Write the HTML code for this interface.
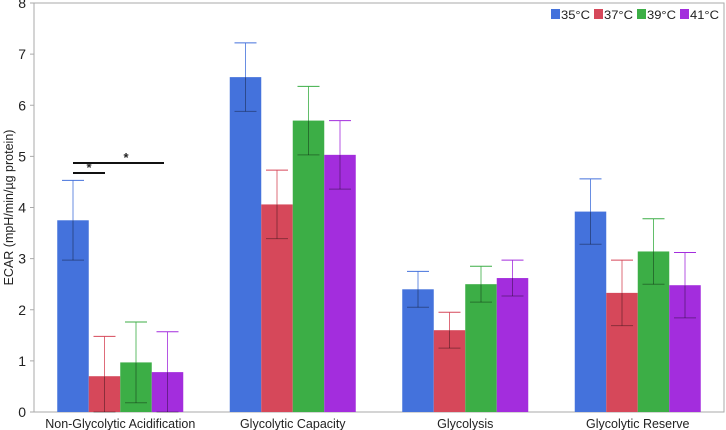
<!DOCTYPE html>
<html><head><meta charset="utf-8"><style>
body{margin:0;background:#fff;width:726px;height:430px;overflow:hidden}
svg{display:block}
text{font-family:"Liberation Sans",sans-serif;fill:#222}
</style></head><body>
<svg id="chart" width="726" height="430" xmlns="http://www.w3.org/2000/svg"></svg>
<script>
const categories=["Non-Glycolytic Acidification","Glycolytic Capacity","Glycolysis","Glycolytic Reserve"];
const seriesNames=["35°C","37°C","39°C","41°C"];
const s35=[3.75,6.55,2.40,3.92];
const s37=[0.70,4.06,1.60,2.33];
const s39=[0.97,5.70,2.50,3.14];
const s41=[0.78,5.03,2.62,2.48];
const err35=[0.78,0.67,0.35,0.64];
const err37=[0.78,0.67,0.35,0.64];
const err39=[0.79,0.67,0.35,0.64];
const err41=[0.79,0.67,0.35,0.64];
const yTicks=[0,1,2,3,4,5,6,7,8];
const colors=["#4472dc","#d6485a","#3cae46","#a32ddd"];
const ns="http://www.w3.org/2000/svg",svg=document.getElementById("chart");
const L=34,R=724,T=3,B=412;
const y=v=>B-(v/8)*(B-T);
const band=(R-L)/categories.length, bw=31.5;
const xc=i=>L+band*(i+0.5);
function mk(t,a,p){const e=document.createElementNS(ns,t);for(const k in a)e.setAttribute(k,a[k]);(p||svg).appendChild(e);return e;}
const frame=mk("rect",{x:L,y:T,width:R-L,height:B-T,fill:"none",stroke:"#aaa","stroke-width":1});


yTicks.forEach(t=>{
  const tx=mk("text",{x:L-8,y:y(t)+5,"text-anchor":"end","font-size":14});tx.textContent=t;
  
  
  const tk=mk("line",{x1:L-4,x2:L,y1:y(t),y2:y(t),stroke:"#aaa"});
  
  
});
const yt=mk("text",{x:0,y:0,"font-size":12.5,"text-anchor":"middle",transform:`translate(13,${(T+B)/2}) rotate(-90)`});
yt.textContent="ECAR (mpH/min/µg protein)";


const series=[s35,s37,s39,s41],errs=[err35,err37,err39,err41];
categories.forEach((c,i)=>{
  const lab=mk("text",{x:xc(i),y:428,"text-anchor":"middle","font-size":12.5});lab.textContent=c;
  
  
  series.forEach((s,j)=>{
    const x0=xc(i)-2*bw+j*bw,v=s[i],e=errs[j][i],cx=x0+bw/2;
    const r=mk("rect",{x:x0,y:y(v),width:bw,height:B-y(v),fill:colors[j]});
    
    
    const lo=Math.max(0,v-e);
    const g=mk("g",{stroke:colors[j],"stroke-width":1});
    
    
    mk("line",{x1:cx,x2:cx,y1:y(v),y2:y(v+e),opacity:0.8},g);
    mk("line",{x1:cx-11,x2:cx+11,y1:y(v+e),y2:y(v+e)},g);
    mk("line",{x1:cx,x2:cx,y1:y(v),y2:y(lo),stroke:"#000",opacity:0.35},g);
    mk("line",{x1:cx-11,x2:cx+11,y1:y(lo),y2:y(lo),stroke:"#000",opacity:0.35},g);
  });
});
const sig=[[73,105,173,89],[73,164,163,126]];
sig.forEach(s=>{
  const l=mk("line",{x1:s[0],x2:s[1],y1:s[2],y2:s[2],stroke:"#111","stroke-width":2});
  
  
  const st=mk("text",{x:s[3],y:s[2]-1,"text-anchor":"middle","font-size":13,"font-weight":"bold"});st.textContent="*";
  
  
});
const lx=[551,594,637,680];
seriesNames.forEach((n,j)=>{
  const g=mk("g",{});
  
  
  mk("rect",{x:lx[j],y:9,width:9,height:10,fill:colors[j]},g);
  const t=mk("text",{x:lx[j]+10,y:19,"font-size":12,textLength:29,lengthAdjust:"spacingAndGlyphs"},g);t.textContent=n;
});
</script>
</body></html>
